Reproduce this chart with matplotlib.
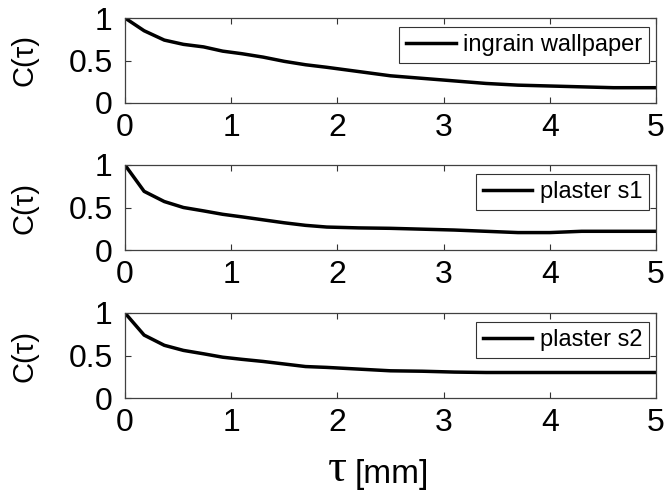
import matplotlib
matplotlib.use("Agg")
import matplotlib.pyplot as plt

plt.rcParams['font.family'] = ['Liberation Sans', 'DejaVu Sans']

# ================= DATA =================
tau = [0, 0.18, 0.37, 0.55, 0.74, 0.92, 1.1, 1.3, 1.5, 1.7, 1.9,
       2.2, 2.5, 2.8, 3.1, 3.4, 3.7, 4.0, 4.3, 4.6, 5.0]

c_wallpaper = [1.0, 0.85, 0.74, 0.69, 0.66, 0.61, 0.58, 0.54, 0.49, 0.45, 0.42,
               0.37, 0.32, 0.29, 0.26, 0.23, 0.21, 0.20, 0.19, 0.18, 0.18]
c_plaster1 = [1.0, 0.69, 0.57, 0.50, 0.46, 0.42, 0.39, 0.355, 0.32, 0.29, 0.27,
              0.26, 0.255, 0.245, 0.235, 0.22, 0.205, 0.205, 0.22, 0.22, 0.22]
c_plaster2 = [1.0, 0.74, 0.62, 0.56, 0.52, 0.48, 0.455, 0.43, 0.40, 0.37, 0.36,
              0.34, 0.32, 0.315, 0.305, 0.30, 0.30, 0.30, 0.30, 0.30, 0.30]

labels = ["ingrain wallpaper", "plaster s1", "plaster s2"]
series = [c_wallpaper, c_plaster1, c_plaster2]

x_ticks = [0, 1, 2, 3, 4, 5]
y_ticks = [0, 0.5, 1]
y_ticklabels = ["0", "0.5", "1"]

# ================= PLOT =================
fig = plt.figure(figsize=(6.68, 4.91), dpi=100)

left, width = 125 / 668, 531 / 668
tops = [18, 165, 313]
h = 85

for top, vals, lab in zip(tops, series, labels):
    ax = fig.add_axes([left, 1 - (top + h) / 491, width, h / 491])
    ax.plot(tau, vals, color='k', lw=2.5, label=lab, solid_joinstyle='round')
    ax.set_xlim(0, 5)
    ax.set_ylim(0, 1)
    ax.set_xticks(x_ticks)
    ax.set_yticks(y_ticks)
    ax.set_yticklabels(y_ticklabels)
    ax.tick_params(direction='in', length=4, width=0.8, top=True, right=True,
                   labelsize=23, color='0.2')
    ax.tick_params(axis='x', pad=7)
    ax.tick_params(axis='y', pad=9)
    for sp in ax.spines.values():
        sp.set_color('0.25')
        sp.set_linewidth(0.9)
    ax.set_ylabel("C(τ)", fontsize=21)
    ax.yaxis.set_label_coords(-0.163, 0.5)
    leg = ax.legend(loc='upper right', bbox_to_anchor=(0.987, 0.894),
                    fontsize=17, frameon=True, fancybox=False, borderpad=0.3,
                    handlelength=2.1, handletextpad=0.3, borderaxespad=0)
    leg.get_frame().set_edgecolor('k')
    leg.get_frame().set_linewidth(0.8)
    for line in leg.get_lines():
        line.set_linewidth(2.5)

# x axis label: large tau followed by the unit
fig.text(347 / 668, 1 - 481 / 491, "τ", fontsize=34, family='Liberation Serif',
         ha='right', va='baseline')
fig.text(355 / 668, 1 - 483 / 491, "[mm]", fontsize=24, ha='left', va='baseline')

fig.savefig("out.png", dpi=100)
